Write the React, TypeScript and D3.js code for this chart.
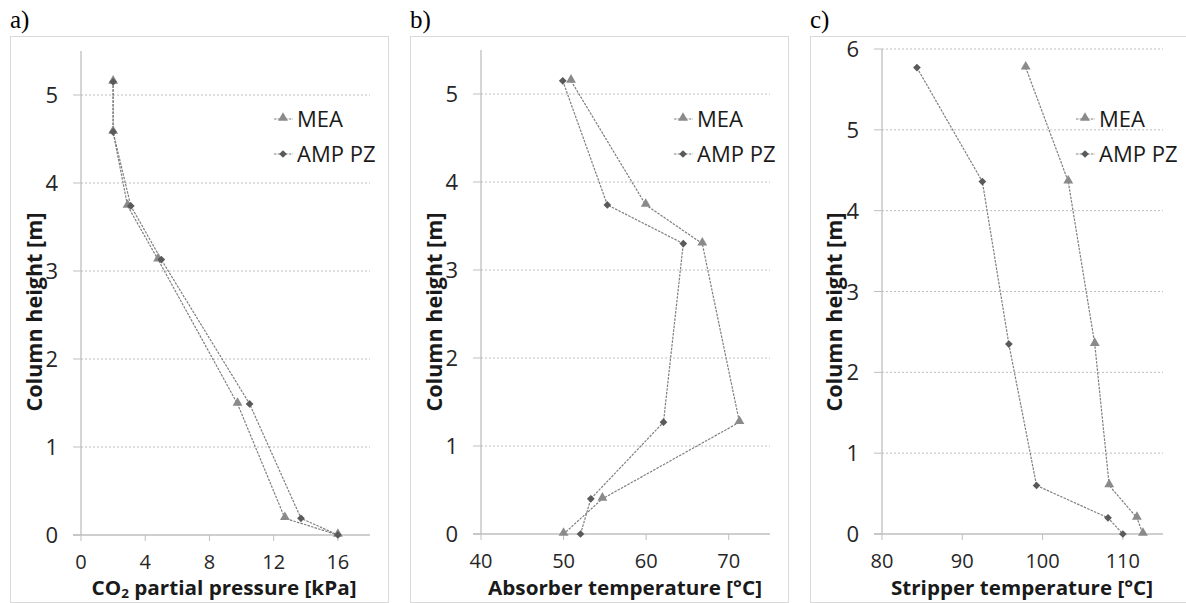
import * as d3 from 'd3'

// panel a - CO2 partial pressure
const heightA = [5.15, 4.58, 3.74, 3.13, 1.49, 0.19, 0]
const meaA = [2.0, 2.0, 2.9, 4.8, 9.75, 12.7, 16.0]
const ampA = [2.0, 2.0, 3.1, 5.0, 10.5, 13.7, 16.0]

// panel b - absorber temperature
const heightB = [5.15, 3.74, 3.3, 1.27, 0.4, 0]
const meaB = [50.9, 59.95, 66.8, 71.3, 54.7, 50.0]
const ampB = [49.9, 55.3, 64.5, 62.1, 53.3, 52.05]

// panel c - stripper temperature
const heightC = [5.77, 4.36, 2.35, 0.6, 0.2, 0]
const meaC = [97.9, 103.2, 106.5, 108.3, 111.75, 112.5]
const ampC = [84.35, 92.5, 95.8, 99.25, 108.15, 110.0]

const ticksXA = [0, 4, 8, 12, 16]
const ticksXB = [40, 50, 60, 70]
const ticksXC = [80, 90, 100, 110]
const ticksYAB = [0, 1, 2, 3, 4, 5]
const ticksYC = [0, 1, 2, 3, 4, 5, 6]

const seriesNames = ['MEA', 'AMP PZ']

const FONT = '"Open Sans", Calibri, sans-serif'
const LINE = '#7f7f7f'
const MEA_FILL = '#8a8a8a'
const AMP_FILL = '#5a5a5a'
const GRID = '#bdbdbd'
const AXIS = '#bfbfbf'

const triangle = d3.symbol().type(d3.symbolTriangle).size(42)()
const diamond = d3.symbol().type(d3.symbolSquare).size(30)()

function Marker({ kind, x, y }: { kind: string; x: number; y: number }) {
  if (kind === 'MEA')
    return <path d={triangle} transform={`translate(${x},${y - 1})`} fill={MEA_FILL} />
  return <path d={diamond} transform={`translate(${x},${y}) rotate(45)`} fill={AMP_FILL} />
}

function Panel(props: {
  label: string
  frameX: number
  left: number
  right: number
  top: number
  bottom: number
  xDomain: [number, number]
  yMax: number
  xTicks: number[]
  yTicks: number[]
  heights: number[]
  mea: number[]
  amp: number[]
  title: any
  titleX: number
  titleWidth: number
  legendX: number
}) {
  const { label, frameX, left, right, top, bottom, xDomain, yMax, xTicks, yTicks, heights, mea, amp } = props
  const x = d3.scaleLinear().domain(xDomain).range([left, right])
  const y = d3.scaleLinear().domain([0, yMax]).range([bottom, top])
  const line = d3
    .line<[number, number]>()
    .x((d) => x(d[0]))
    .y((d) => y(d[1]))
  const meaPts: [number, number][] = mea.map((v, i) => [v, heights[i]])
  const ampPts: [number, number][] = amp.map((v, i) => [v, heights[i]])

  return (
    <g>
      <text x={frameX} y={28} fontFamily='"Liberation Serif", serif' fontSize={25}>
        {label}
      </text>
      <rect x={frameX + 0.5} y={36.5} width={378} height={566} fill="white" stroke="#d9d9d9" />
      {yTicks.map((t) =>
        t === 0 ? null : (
          <line key={'g' + t} x1={left} x2={right} y1={y(t)} y2={y(t)} stroke={GRID} strokeDasharray="2,2" />
        )
      )}
      {/* axes */}
      <line x1={left} x2={left} y1={y(0)} y2={y(yMax)} stroke={AXIS} strokeWidth={1.3} />
      <line x1={left - 8} x2={right} y1={y(0)} y2={y(0)} stroke={AXIS} strokeWidth={1.3} />
      {yTicks.map((t) => (
        <line key={'yt' + t} x1={left - 8} x2={left} y1={y(t)} y2={y(t)} stroke={AXIS} />
      ))}
      {xTicks.map((t) => (
        <line key={'xt' + t} x1={x(t)} x2={x(t)} y1={y(0)} y2={y(0) + 6} stroke={AXIS} />
      ))}
      {yTicks.map((t) => (
        <text key={'yl' + t} x={left - 23} y={y(t) + 8} textAnchor="end" fontFamily={FONT} fontSize={22} fill="#262626">
          {t}
        </text>
      ))}
      {xTicks.map((t) => (
        <text key={'xl' + t} x={x(t)} y={y(0) + 34} textAnchor="middle" fontFamily={FONT} fontSize={20} fill="#262626">
          {t}
        </text>
      ))}
      {/* axis titles */}
      <text
        x={props.titleX}
        y={595}
        textAnchor="middle"
        fontFamily={FONT}
        fontWeight="bold"
        fontSize={20}
        fill="#1a1a1a"
        textLength={props.titleWidth}
        lengthAdjust="spacingAndGlyphs"
      >
        {props.title}
      </text>
      <text
        transform={`translate(${frameX + 32},312) rotate(-90)`}
        textAnchor="middle"
        fontFamily={FONT}
        fontWeight="bold"
        fontSize={21}
        fill="#1a1a1a"
        textLength={199}
        lengthAdjust="spacingAndGlyphs"
      >
        Column height [m]
      </text>
      {/* series */}
      <path d={line(meaPts) ?? ''} fill="none" stroke={LINE} strokeWidth={1.2} strokeDasharray="2.5,1.2" />
      <path d={line(ampPts) ?? ''} fill="none" stroke={LINE} strokeWidth={1.2} strokeDasharray="2.5,1.2" />
      {meaPts.map((p, i) => (
        <Marker key={'m' + i} kind="MEA" x={x(p[0])} y={y(p[1])} />
      ))}
      {ampPts.map((p, i) => (
        <Marker key={'a' + i} kind="AMP PZ" x={x(p[0])} y={y(p[1])} />
      ))}
      {/* legend */}
      {seriesNames.map((name, i) => {
        const ly = 119 + i * 35
        return (
          <g key={name}>
            <line x1={props.legendX - 9} x2={props.legendX + 10} y1={ly} y2={ly} stroke={LINE} strokeDasharray="2.5,1.2" />
            <Marker kind={name} x={props.legendX} y={ly} />
            <text x={props.legendX + 14} y={ly + 8} fontFamily={FONT} fontSize={22} fill="#1a1a1a">
              {name}
            </text>
          </g>
        )
      })}
    </g>
  )
}

export default function App() {
  return (
    <svg
      width={1186}
      height={603}
      style={{ position: 'absolute', left: 0, top: 0, background: 'white' }}
    >
      <Panel
        label="a)"
        frameX={10}
        left={81}
        right={370}
        top={51}
        bottom={535}
        xDomain={[0, 18]}
        yMax={5.5}
        xTicks={ticksXA}
        yTicks={ticksYAB}
        heights={heightA}
        mea={meaA}
        amp={ampA}
        title={
          <>
            CO<tspan fontSize={13} dy={3}>2</tspan>
            <tspan dy={-3}> partial pressure [kPa]</tspan>
          </>
        }
        titleX={224}
        titleWidth={265}
        legendX={283}
      />
      <Panel
        label="b)"
        frameX={410}
        left={481}
        right={770}
        top={50}
        bottom={534}
        xDomain={[40, 75]}
        yMax={5.5}
        xTicks={ticksXB}
        yTicks={ticksYAB}
        heights={heightB}
        mea={meaB}
        amp={ampB}
        title="Absorber temperature [°C]"
        titleX={625}
        titleWidth={274}
        legendX={683}
      />
      <Panel
        label="c)"
        frameX={810}
        left={882}
        right={1163}
        top={49}
        bottom={534}
        xDomain={[80, 115]}
        yMax={6}
        xTicks={ticksXC}
        yTicks={ticksYC}
        heights={heightC}
        mea={meaC}
        amp={ampC}
        title="Stripper temperature [°C]"
        titleX={1022}
        titleWidth={262}
        legendX={1085}
      />
    </svg>
  )
}
